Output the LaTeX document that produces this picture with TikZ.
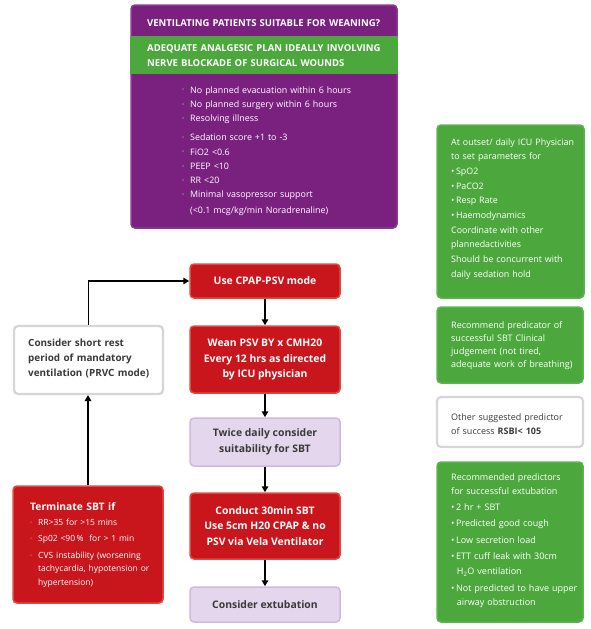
\documentclass[tikz,border=0pt]{standalone}
\usepackage{fontspec}
\setmainfont{Open Sans}
\usetikzlibrary{arrows.meta}
\definecolor{purp}{HTML}{7A2180}
\definecolor{purpb}{HTML}{8C3A93}
\definecolor{grn}{HTML}{4CA83D}
\definecolor{grnb}{HTML}{5DB44E}
\definecolor{redf}{HTML}{C9161D}
\definecolor{redb}{HTML}{E04A3F}
\definecolor{lavf}{HTML}{E4D6EC}
\definecolor{lavb}{HTML}{CFB9DE}
\definecolor{greyb}{HTML}{D6D6D6}
\definecolor{dtxt}{HTML}{3A3A3A}
\definecolor{pbul}{HTML}{C7A9CB}
\definecolor{rbul}{HTML}{F08A80}
\newcommand{\sbul}[1]{\makebox[8pt][l]{\textcolor{#1}{\raisebox{0.12em}{\scalebox{0.6}{\textbullet}}}}}
\newcommand{\wbul}{\textbullet\,}
\tikzset{
  box/.style={rounded corners=4pt, line width=1.5pt, inner sep=0pt},
  redbox/.style={box, fill=redf, draw=redb, text=white, align=center, minimum width=150pt,
     font=\bfseries\fontsize{10.4}{15.2}\selectfont},
  lavbox/.style={box, fill=lavf, draw=lavb, text=dtxt, align=center, minimum width=150pt,
     font=\bfseries\fontsize{10.4}{15.6}\selectfont},
  greenbox/.style={box, fill=grn, draw=grnb},
  greybox/.style={box, fill=white, draw=greyb, line width=2.2pt},
  txt/.style={anchor=base west, inner sep=0pt, align=left, text width=#1},
  arr/.style={-{Triangle[length=6pt,width=6.5pt]}, line width=1.5pt, draw=black}
}
\begin{document}
\begin{tikzpicture}[x=1pt,y=-1pt]
\useasboundingbox (0,0) rectangle (590,629);
% purple box
\node[box, fill=purp, draw=purpb, minimum width=266pt, minimum height=223pt] (pbox) at (264,116.5) {};
\node[fill=grn, inner sep=0pt, minimum width=267.5pt, minimum height=38pt] (gband) at (264,55) {};
\node[txt=260pt, text=white, font=\bfseries\fontsize{9.5}{14.6}\selectfont] (ptitle) at (147,27) {VENTILATING PATIENTS SUITABLE FOR WEANING?};
\node[txt=260pt, text=white, font=\bfseries\fontsize{9.5}{14.6}\selectfont] (gbandtxt) at (147,51.5) {ADEQUATE ANALGESIC PLAN IDEALLY INVOLVING\\NERVE BLOCKADE OF SURGICAL WOUNDS};
\node[txt=210pt, text=white, font=\fontsize{8.9}{14.3}\selectfont] (plist) at (182,93) {%
\sbul{pbul}No planned evacuation within 6 hours\\
\sbul{pbul}No planned surgery within 6 hours\\
\sbul{pbul}Resolving illness\\[4.8pt]
\sbul{pbul}Sedation score +1 to -3\\
\sbul{pbul}FiO2 <0.6\\
\sbul{pbul}PEEP <10\\
\sbul{pbul}RR <20\\
\sbul{pbul}Minimal vasopressor support\\[1pt]
\hspace*{8pt}(<0.1 mcg/kg/min Noradrenaline)};
% right column
\node[greenbox, minimum width=147pt, minimum height=173pt] (gbox1) at (510.5,211.5) {};
\node[txt=135pt, text=white, font=\fontsize{8.9}{14.7}\selectfont] (g1txt) at (451,145) {%
At outset/ daily ICU Physician\\
to set parameters for\\
\wbul SpO2\\
\wbul PaCO2\\
\wbul Resp Rate\\
\wbul Haemodynamics\\
Coordinate with other\\
plannedactivities\\
Should be concurrent with\\
daily sedation hold};
\node[greenbox, minimum width=146pt, minimum height=76pt] (gbox2) at (510,345) {};
\node[txt=135pt, text=white, font=\fontsize{9}{13}\selectfont] (g2txt) at (451,328) {%
Recommend predicator of\\
successful SBT Clinical\\
judgement (not tired,\\
adequate work of breathing)};
\node[greybox, minimum width=146pt, minimum height=50pt] (wbox) at (510,422) {};
\node[txt=135pt, text=dtxt, font=\fontsize{9}{14.7}\selectfont] (wtxt) at (451,420) {%
Other suggested predictor\\
of success \textbf{RSBI< 105}};
\node[greenbox, minimum width=146pt, minimum height=160pt] (gbox3) at (510,542) {};
\node[txt=135pt, text=white, font=\fontsize{9}{14.3}\selectfont] (g3txt) at (451,480) {%
Recommended predictors\\
for successful extubation\\[2pt]
\wbul 2 hr + SBT\\[2pt]
\wbul Predicted good cough\\[2pt]
\wbul Low secretion load\\[2pt]
\wbul ETT cuff leak with 30cm\\[1pt]
\hspace*{5.7pt}H\textsubscript{2}O ventilation\\[2pt]
\wbul Not predicted to have upper\\
\hspace*{5.7pt}airway obstruction};
% left column
\node[greybox, minimum width=149pt, minimum height=68pt] (restbox) at (88.5,360) {};
\node[txt=140pt, text=dtxt, font=\bfseries\fontsize{9.9}{15}\selectfont] (resttxt) at (28,346.5) {%
Consider short rest\\
period of mandatory\\
ventilation (PRVC mode)};
\node[box, fill=redf, draw=redb, minimum width=150pt, minimum height=117pt] (termbox) at (88,544.5) {};
\node[txt=130pt, text=white, font=\bfseries\fontsize{10.3}{15}\selectfont] (termtitle) at (30,510) {Terminate SBT if};
\node[txt=130pt, text=white, font=\fontsize{8.5}{13.6}\selectfont] (termlist) at (30,525.5) {%
\sbul{rbul}RR>35 for >15 mins\\[2.5pt]
\sbul{rbul}Sp02 <90\,\% \ for > 1 min\\[3pt]
\sbul{rbul}CVS instability (worsening\\
\hspace*{8pt}tachycardia, hypotension or\\
\hspace*{8pt}hypertension)};
% centre column
\node[redbox, minimum height=34pt] (cpap) at (265,281) {Use CPAP-PSV mode};
\node[redbox, minimum height=67pt] (wean) at (265,359.5) {Wean PSV BY x CMH20\\Every 12 hrs as directed\\by ICU physician};
\node[lavbox, minimum height=48pt] (twice) at (265,442) {Twice daily consider\\suitability for SBT};
\node[redbox, minimum height=66pt] (conduct) at (265,526) {Conduct 30min SBT\\Use 5cm H20 CPAP \& no\\PSV via Vela Ventilator};
\node[lavbox, minimum height=35pt] (extub) at (265,604.5) {Consider extubation};
% connectors
\draw[arr] (cpap.south) -- (wean.north);
\draw[arr] (wean.south) -- (twice.north);
\draw[arr] (twice.south) -- (conduct.north);
\draw[arr] (conduct.south) -- (extub.north);
\draw[arr] (restbox.north) |- (cpap.west);
\draw[arr] (termbox.north) -- (termbox.north |- restbox.south);
\end{tikzpicture}
\end{document}
